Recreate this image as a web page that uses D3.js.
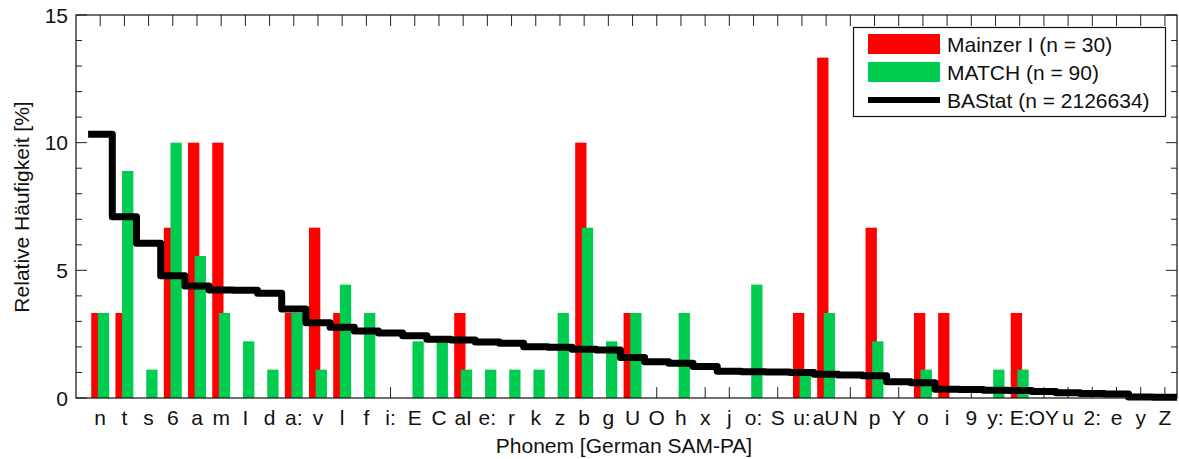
<!DOCTYPE html>
<html>
<head>
<meta charset="utf-8">
<script src="https://cdn.jsdelivr.net/npm/d3@7"></script>
<style>
  html, body { margin: 0; padding: 0; background: #fff; }
  svg { display: block; font-family: "Liberation Sans", Arial, Helvetica, sans-serif; }
</style>
</head>
<body>
<svg id="chart" width="1179" height="459"></svg>
<script>
const categories = ["n","t","s","6","a","m","I","d","a:","v","l","f","i:","E","C","aI","e:","r","k","z","b","g","U","O","h","x","j","o:","S","u:","aU","N","p","Y","o","i","9","y:","E:","OY","u","2:","e","y","Z"];
const mainzer = [3.33,3.33,0,6.67,10,10,0,0,3.33,6.67,3.33,0,0,0,0,3.33,0,0,0,0,10,0,3.33,0,0,0,0,0,0,3.33,13.33,0,6.67,0,3.33,3.33,0,0,3.33,0,0,0,0,0,0];
const match = [3.33,8.89,1.11,10,5.56,3.33,2.22,1.11,3.33,1.11,4.44,3.33,0,2.22,2.22,1.11,1.11,1.11,1.11,3.33,6.67,2.22,3.33,0,3.33,0,0,4.44,0,1.11,3.33,0,2.22,0,1.11,0,0,1.11,1.11,0,0,0,0,0,0];
const bastat = [10.33,7.10,6.06,4.79,4.39,4.23,4.22,4.10,3.49,2.95,2.77,2.62,2.55,2.44,2.30,2.27,2.19,2.14,2.01,1.99,1.91,1.88,1.59,1.42,1.36,1.23,1.05,1.03,1.02,1.00,0.93,0.90,0.87,0.64,0.60,0.34,0.33,0.30,0.29,0.25,0.21,0.18,0.16,0.04,0.03];
const yTicksMajor = [0,5,10,15];
const seriesNames = ["Mainzer I (n = 30)","MATCH (n = 90)","BAStat (n = 2126634)"];
const colors = {red:"#ff0000", green:"#00cc50", black:"#000000"};

const svg = d3.select("#chart");
const L = 76, R = 1177, T = 15, B = 398;
const FS = 21;
const x = d3.scaleLinear().domain([0, categories.length + 0.5]).range([L, R]);
const y = d3.scaleLinear().domain([0, 15]).range([B, T]);
const barW = x(0.467) - x(0);
const off = 0.137;

const g = svg.append("g");
categories.forEach((c, i) => {
  const xi = x(i + 1);
  g.append("line").attr("x1", xi).attr("x2", xi).attr("y1", B).attr("y2", B - 11).attr("stroke", "#222").attr("stroke-width", 1);
  g.append("line").attr("x1", xi).attr("x2", xi).attr("y1", T).attr("y2", T + 11).attr("stroke", "#222").attr("stroke-width", 1);
});
d3.range(0, 16).forEach(v => {
  const len = yTicksMajor.includes(v) ? 11 : 6;
  g.append("line").attr("x1", L).attr("x2", L + len).attr("y1", y(v)).attr("y2", y(v)).attr("stroke", "#222");
  g.append("line").attr("x1", R).attr("x2", R - len).attr("y1", y(v)).attr("y2", y(v)).attr("stroke", "#222");
});

svg.append("g").selectAll("rect").data(mainzer).join("rect")
  .attr("x", (d, i) => x(i + 1 - off) - barW / 2)
  .attr("width", barW)
  .attr("y", d => y(d))
  .attr("height", d => B - y(d))
  .attr("fill", colors.red);
svg.append("g").selectAll("rect").data(match).join("rect")
  .attr("x", (d, i) => x(i + 1 + off) - barW / 2)
  .attr("width", barW)
  .attr("y", d => y(d))
  .attr("height", d => B - y(d))
  .attr("fill", colors.green);

const pts = [];
bastat.forEach((v, i) => { pts.push([i + 0.5, v]); pts.push([i + 1.5, v]); });
svg.append("path")
  .attr("d", d3.line().x(d => x(d[0])).y(d => y(d[1]))(pts))
  .attr("fill", "none").attr("stroke", colors.black).attr("stroke-width", 7)
  .attr("stroke-linejoin", "round");

svg.append("rect").attr("x", L).attr("y", T).attr("width", R - L).attr("height", B - T)
  .attr("fill", "none").attr("stroke", "#111").attr("stroke-width", 1.2);

yTicksMajor.forEach(v => {
  svg.append("text").attr("x", 68).attr("y", y(v)).attr("dy", "0.36em")
    .attr("text-anchor", "end").attr("font-size", FS).attr("fill", "#111").text(v);
});
categories.forEach((c, i) => {
  svg.append("text").attr("x", x(i + 1)).attr("y", 425)
    .attr("text-anchor", "middle").attr("font-size", FS).attr("fill", "#111").text(c);
});
svg.append("text").attr("x", 624).attr("y", 453).attr("text-anchor", "middle")
  .attr("font-size", FS).attr("fill", "#111").text("Phonem [German SAM-PA]");
svg.append("text").attr("transform", "translate(29,207) rotate(-90)").attr("text-anchor", "middle")
  .attr("font-size", FS).attr("fill", "#111").text("Relative Häufigkeit [%]");

const lg = svg.append("g");
lg.append("rect").attr("x", 853.5).attr("y", 27.5).attr("width", 312).attr("height", 89)
  .attr("fill", "#fff").attr("stroke", "#111").attr("stroke-width", 1.2);
lg.append("rect").attr("x", 868).attr("y", 34).attr("width", 72).attr("height", 20).attr("fill", colors.red);
lg.append("rect").attr("x", 868).attr("y", 62).attr("width", 72).attr("height", 20).attr("fill", colors.green);
lg.append("line").attr("x1", 868).attr("x2", 940).attr("y1", 100).attr("y2", 100).attr("stroke", colors.black).attr("stroke-width", 6);
[44, 72, 100].forEach((yy, i) => {
  lg.append("text").attr("x", 947).attr("y", yy).attr("dy", "0.36em").attr("font-size", FS)
    .attr("fill", "#111").text(seriesNames[i]);
});
</script>
</body>
</html>
